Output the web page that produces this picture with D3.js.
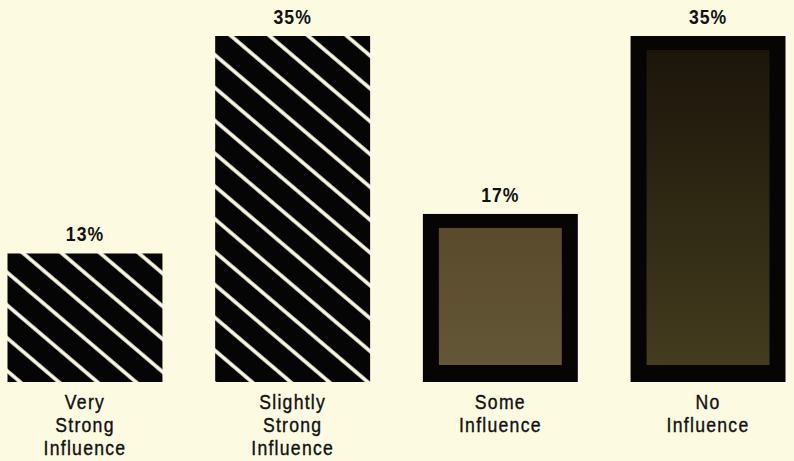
<!DOCTYPE html>
<html>
<head>
<meta charset="utf-8">
<script src="https://cdn.jsdelivr.net/npm/d3@7"></script>
<style>
  html, body { margin: 0; padding: 0; background: #fcfbe2; }
  svg { display: block; }
</style>
</head>
<body>
<svg id="chart" width="794" height="461"></svg>
<script>
// ---- data ----
const categories = ["Very Strong Influence", "Slightly Strong Influence", "Some Influence", "No Influence"];
const labelLines = [["Very", "Strong", "Influence"], ["Slightly", "Strong", "Influence"], ["Some", "Influence"], ["No", "Influence"]];
const values = [13, 35, 17, 35];
const valueLabels = ["13%", "35%", "17%", "35%"];
const styles = ["hatch", "hatch", "boxLight", "boxDark"];

const W = 794, H = 461;
const svg = d3.select("#chart");
svg.append("rect").attr("width", W).attr("height", H).attr("fill", "#fcfbe2");

const x = d3.scaleBand().domain(categories).range([7.5, 785.5]).paddingInner(0.254).paddingOuter(0);
const y = d3.scaleLinear().domain([0, 35]).range([382, 36]);

const defs = svg.append("defs");
const angle = 40.4, spacing = 25, stripeW = 3.6;

const grad = defs.append("linearGradient").attr("id", "darkGrad").attr("x1", 0).attr("y1", 0).attr("x2", 0).attr("y2", 1);
grad.append("stop").attr("offset", "0%").attr("stop-color", "#1c150b");
grad.append("stop").attr("offset", "45%").attr("stop-color", "#2d2612");
grad.append("stop").attr("offset", "100%").attr("stop-color", "#433c1e");

const gradL = defs.append("linearGradient").attr("id", "lightGrad").attr("x1", 0).attr("y1", 0).attr("x2", 0).attr("y2", 1);
gradL.append("stop").attr("offset", "0%").attr("stop-color", "#594a2b");
gradL.append("stop").attr("offset", "100%").attr("stop-color", "#635737");

const border = 16;
const fontFam = "'Liberation Sans', Arial, sans-serif";
const squeeze = 0.84;

categories.forEach((c, i) => {
  const bx = x(c), bw = x.bandwidth();
  const by = y(values[i]), bh = y(0) - y(values[i]);
  const cx = bx + bw / 2;
  const g = svg.append("g");
  if (styles[i] === "hatch") {
    const pid = "hatch" + i;
    const p = defs.append("pattern").attr("id", pid)
      .attr("patternUnits", "userSpaceOnUse")
      .attr("width", 40).attr("height", spacing)
      .attr("patternTransform", `translate(${bx + 16},${by}) rotate(${angle})`);
    p.append("rect").attr("width", 40).attr("height", spacing).attr("fill", "#050505");
    p.append("rect").attr("x", 0).attr("y", -stripeW / 2).attr("width", 40).attr("height", stripeW).attr("fill", "#fcfbe2");
    p.append("rect").attr("x", 0).attr("y", spacing - stripeW / 2).attr("width", 40).attr("height", stripeW).attr("fill", "#fcfbe2");
    g.append("rect").attr("x", bx).attr("y", by).attr("width", bw).attr("height", bh).attr("fill", `url(#${pid})`);
  } else {
    g.append("rect").attr("x", bx).attr("y", by).attr("width", bw).attr("height", bh).attr("fill", "#060504");
    g.append("rect").attr("x", bx + border).attr("y", by + border - 2)
      .attr("width", bw - 2 * border).attr("height", bh - 2 * border + 1)
      .attr("fill", styles[i] === "boxDark" ? "url(#darkGrad)" : "url(#lightGrad)");
  }
  // value label
  svg.append("text")
    .attr("transform", `translate(${cx},${by - 12}) scale(${squeeze},1)`)
    .attr("text-anchor", "middle")
    .attr("font-family", fontFam)
    .attr("font-weight", "bold").attr("font-size", 21)
    .attr("letter-spacing", 1.2)
    .attr("fill", "#111")
    .text(valueLabels[i]);
  // category label
  const t = svg.append("text")
    .attr("transform", `translate(${cx},409) scale(${squeeze},1)`)
    .attr("text-anchor", "middle")
    .attr("font-family", fontFam)
    .attr("font-size", 21)
    .attr("letter-spacing", 1.5)
    .attr("fill", "#111")
    .attr("stroke", "#111").attr("stroke-width", 0.4);
  labelLines[i].forEach((ln, k) => {
    t.append("tspan").attr("x", 0).attr("y", k * 23).text(ln);
  });
});
</script>
</body>
</html>
